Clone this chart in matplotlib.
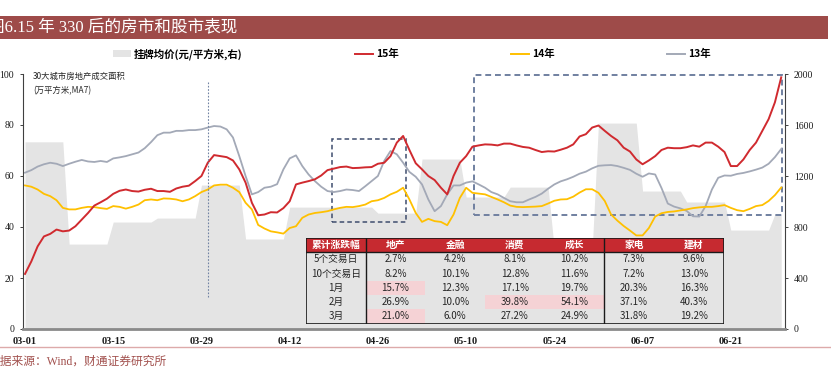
import numpy as np
import matplotlib
matplotlib.use('Agg')
import matplotlib.pyplot as plt
from matplotlib.patches import Rectangle, Patch
from matplotlib.lines import Line2D

# ---------------- data ----------------
tick_labels = ['03-01', '03-15', '03-29', '04-12', '04-26', '05-10', '05-24', '06-07', '06-21']
tick_step = 14
n_days = 121  # 03-01 .. 06-28, daily

y15 = [21.6, 26.5, 32.4, 36.3, 37.3, 39.0, 38.3, 38.6, 40.3, 42.9,
       45.5, 48.4, 49.7, 51.1, 53.0, 54.2, 54.7, 54.1, 53.9, 54.6,
       55.0, 54.1, 54.1, 53.8, 55.1, 55.8, 56.2, 58.0, 60.0, 65.2,
       68.2, 67.8, 67.4, 66.1, 62.6, 57.4, 49.5, 44.6, 44.9, 45.8,
       45.7, 47.4, 50.1, 56.7, 57.4, 58.0, 58.7, 60.2, 62.3, 62.9,
       63.5, 63.7, 63.1, 63.2, 63.4, 63.5, 64.8, 65.2, 67.8, 73.1,
       75.7, 70.2, 65.0, 62.6, 60.0, 58.4, 55.4, 52.8, 60.0, 65.2,
       67.8, 71.5, 72.0, 72.4, 72.3, 72.0, 72.7, 72.7, 72.0, 71.4,
       71.1, 70.2, 69.4, 69.7, 69.6, 70.3, 71.1, 72.4, 75.5, 76.4,
       79.0, 79.8, 77.7, 75.7, 74.0, 71.1, 69.6, 66.5, 64.6, 66.1,
       67.8, 70.2, 71.1, 70.9, 70.9, 71.3, 72.0, 71.5, 73.1, 73.1,
       71.5, 69.4, 63.9, 63.9, 66.5, 70.2, 73.1, 77.7, 82.3, 88.9,
       98.7]

y14 = [56.3, 55.8, 54.7, 53.0, 52.1, 50.5, 47.5, 46.9, 46.9, 47.5,
       47.9, 47.8, 47.4, 47.1, 48.2, 47.9, 47.2, 47.9, 48.8, 50.5,
       50.8, 50.5, 51.2, 51.1, 50.8, 50.1, 50.8, 52.1, 53.7, 54.7,
       56.3, 56.6, 56.6, 55.4, 53.7, 49.5, 46.9, 40.8, 39.4, 38.3,
       37.9, 37.4, 39.6, 40.3, 43.6, 44.9, 45.5, 45.8, 46.2, 46.9,
       47.5, 47.9, 47.8, 48.2, 48.8, 50.1, 50.5, 51.4, 52.8, 53.8,
       55.4, 50.8, 45.5, 42.0, 43.2, 42.3, 42.0, 40.7, 44.9, 51.4,
       55.4, 53.4, 53.1, 52.8, 51.8, 50.8, 49.7, 48.4, 47.9, 47.8,
       47.9, 48.0, 48.2, 49.2, 50.3, 50.8, 50.9, 51.9, 53.5, 54.8,
       54.8, 53.4, 50.2, 44.9, 42.5, 40.4, 38.6, 36.7, 36.7, 39.6,
       44.1, 45.4, 45.9, 46.1, 46.5, 46.9, 47.4, 47.7, 47.9, 47.9,
       48.2, 48.6, 47.5, 46.6, 46.2, 47.1, 48.2, 48.6, 50.2, 52.5,
       55.5]

y13 = [61.3, 62.3, 63.7, 64.6, 65.2, 64.8, 63.9, 64.8, 65.6, 66.3,
       65.7, 65.5, 65.9, 65.5, 66.9, 67.3, 67.8, 68.5, 69.2, 70.9,
       73.3, 76.0, 77.0, 77.0, 77.7, 77.7, 78.0, 78.0, 78.3, 79.0,
       79.6, 79.4, 78.3, 75.1, 67.8, 60.0, 52.8, 53.7, 55.4, 55.8,
       56.8, 62.6, 66.9, 68.1, 63.9, 60.6, 58.0, 55.8, 54.1, 53.7,
       54.1, 54.7, 54.5, 54.1, 56.0, 58.0, 60.0, 65.9, 69.8, 68.5,
       65.2, 61.6, 59.7, 56.7, 50.8, 46.2, 48.2, 52.8, 56.3, 56.3,
       57.4, 57.9, 56.7, 55.4, 53.7, 52.8, 51.4, 50.1, 49.7, 49.7,
       50.8, 51.8, 53.1, 55.0, 56.7, 57.9, 58.7, 59.7, 60.9, 61.7,
       63.0, 64.0, 64.2, 64.3, 63.9, 63.2, 62.4, 60.9, 59.7, 61.0,
       60.6, 55.3, 49.2, 48.0, 47.3, 46.3, 44.2, 44.1, 48.2, 54.7,
       59.3, 60.2, 60.1, 60.8, 61.2, 61.8, 62.5, 63.3, 64.8, 67.4,
       70.6]

# weekly listing price (yuan / m2, right axis), one value per 7-day block
price_weekly = [1468, 666, 839, 870, 1129, 706, 956, 956, 909, 1333,
                1035, 1113, 620, 1615, 1082, 996, 776, 901]

# table
table_header = ['累计涨跌幅', '地产', '金融', '消费', '成长', '家电', '建材']
table_rows = ['5个交易日', '10个交易日', '1月', '2月', '3月']
dichan = [2.7, 8.2, 15.7, 26.9, 21.0]
jinrong = [4.2, 10.1, 12.3, 10.0, 6.0]
xiaofei = [8.1, 12.8, 17.1, 39.8, 27.2]
chengzhang = [10.2, 11.6, 19.7, 54.1, 24.9]
jiadian = [7.3, 7.2, 20.3, 37.1, 31.8]
jiancai = [9.6, 13.0, 16.3, 40.3, 19.2]
highlight = [('1月', '地产'), ('3月', '地产'), ('2月', '消费'), ('2月', '成长')]

# ---------------- style ----------------
W, H = 831, 377
C_RED = '#D02A2F'
C_YEL = '#FFC000'
C_GRY = '#A3A9B7'
C_AREA = '#E4E4E4'
C_BAND = '#9E4B49'
CJK = 'Noto Sans CJK SC'
SERIF_MIX = ['Liberation Serif', CJK]

plt.rcParams['font.family'] = ['Liberation Serif', CJK, 'DejaVu Sans']


def fx(px):
    return px / W


def fy(py):
    return 1 - py / H


fig = plt.figure(figsize=(W / 100, H / 100), dpi=100)

# title band
fig.add_artist(Rectangle((0, fy(38.5)), fx(828), fy(16.5) - fy(38.5),
                         transform=fig.transFigure, color=C_BAND, lw=0))
fig.text(fx(-12), fy(27.5), '图6.15 年 330 后的房市和股市表现', color='white',
         fontsize=12, va='center', ha='left', family=SERIF_MIX)

# main axes
ax = fig.add_axes([fx(22.5), fy(329), fx(785) - fx(22.5), fy(74) - fy(329)])
ax2 = ax.twinx()

days = np.arange(n_days)
price_daily = np.repeat(price_weekly, 7)[:n_days]
ax2.fill_between(days, 0, price_daily, color=C_AREA, lw=0)
ax2.set_ylim(0, 2000)
ax2.set_yticks(np.arange(0, 2001, 400))

ax.plot(days, y13, color=C_GRY, lw=1.3)
ax.plot(days, y14, color=C_YEL, lw=1.3)
ax.plot(days, y15, color=C_RED, lw=1.4)
ax.set_ylim(0, 100)
ax.set_xlim(-0.4, 120.6)
ax.set_yticks(np.arange(0, 101, 20))
ax.set_zorder(ax2.get_zorder() + 1)
ax.patch.set_visible(False)

# policy marker (03-30) and highlight boxes
policy_day = 29
ax.plot([policy_day, policy_day], [12.6, 96.9], color='#7183A3', lw=0.8,
        ls=(0, (1.5, 1.5)))
ax.add_patch(Rectangle((48.7, 42.0), 11.8, 32.7, fill=False, ec='#3F4D6E',
                       lw=1.1, ls=(0, (3, 2))))
ax.add_patch(Rectangle((71.3, 44.9), 48.9, 54.7, fill=False, ec='#7080A0',
                       lw=1.4, ls=(0, (3, 2))))

# ticks & spines
ax.set_xticks(np.arange(0, n_days, tick_step)[:len(tick_labels)])
ax.set_xticklabels(tick_labels, fontweight='bold', fontsize=7.5)
ax.tick_params(axis='x', length=0, pad=6, colors='#1a1a1a')
ax.tick_params(axis='y', direction='out', length=2.5, width=0.7,
               color='#404040', labelsize=7, pad=3.5, labelcolor='#1a1a1a')
ax2.tick_params(axis='y', direction='out', length=2.5, width=0.7,
                color='#404040', labelsize=7, pad=4, labelcolor='#1a1a1a')
for s in ['top', 'right']:
    ax.spines[s].set_visible(False)
for s in ['top', 'left', 'bottom']:
    ax2.spines[s].set_visible(False)
ax.spines['left'].set_color('#404040')
ax.spines['left'].set_linewidth(0.8)
ax2.spines['right'].set_color('#404040')
ax2.spines['right'].set_linewidth(0.8)
ax.spines['bottom'].set_color('#8A8A8A')
ax.spines['bottom'].set_linewidth(2.0)

# annotation
fig.text(fx(33), fy(76), '30大城市房地产成交面积', fontsize=6, family=CJK,
         color='#262626', va='center', ha='left')
fig.text(fx(33), fy(91), '(万平方米,MA7)', fontsize=6, family=CJK,
         color='#262626', va='center', ha='left')

# legend
handles = [Patch(fc=C_AREA, ec='none'),
           Line2D([], [], color=C_RED, lw=1.4),
           Line2D([], [], color=C_YEL, lw=1.4),
           Line2D([], [], color=C_GRY, lw=1.4)]
labels = ['挂牌均价(元/平方米,右)', '15年', '14年', '13年']
fig.legend(handles, labels, ncol=4, loc='center',
           bbox_to_anchor=(fx(412), fy(54)), frameon=False,
           prop={'family': CJK, 'weight': 'bold', 'size': 7.5},
           handlelength=1.7, handleheight=0.6, handletextpad=0.3,
           columnspacing=10.8, borderpad=0, borderaxespad=0)

# table
tax = fig.add_axes([fx(306), fy(323.5), fx(723.5) - fx(306), fy(238) - fy(323.5)])
tax.set_xlim(0, len(table_header))
tax.set_ylim(len(table_rows) + 1, 0)
tax.axis('off')
cols = [dichan, jinrong, xiaofei, chengzhang, jiadian, jiancai]
for c, name in enumerate(table_header):
    tax.add_patch(Rectangle((c, 0), 1, 1, fc='#C62A30', lw=0))
    tax.text(c + 0.5, 0.5, name, ha='center', va='center', color='white',
             fontsize=7, fontweight='bold', family=CJK)
for r, rname in enumerate(table_rows):
    tax.add_patch(Rectangle((0, r + 1), len(table_header), 1, fc=C_AREA, lw=0))
    tax.text(0.5, r + 1.5, rname, ha='center', va='center', color='#262626',
             fontsize=7, family=CJK)
    for c, vals in enumerate(cols):
        if (rname, table_header[c + 1]) in highlight:
            tax.add_patch(Rectangle((c + 1, r + 1), 1, 1, fc='#F5D2D5', lw=0))
        tax.text(c + 1.5, r + 1.5, f'{vals[r]:.1f}%', ha='center', va='center',
                 color='#262626', fontsize=7, family=CJK)
lk = dict(color='#1a1a1a', lw=1.0)
tax.add_patch(Rectangle((0, 0), len(table_header), len(table_rows) + 1,
                        fill=False, ec='#1a1a1a', lw=1.2))
tax.plot([1, 1], [0, len(table_rows) + 1], **lk)
tax.plot([5, 5], [0, len(table_rows) + 1], **lk)
tax.plot([0, len(table_header)], [1, 1], **lk)

# footer
fig.add_artist(Line2D([0, 1], [fy(347), fy(347)], color='#DDAAAA', lw=1,
                      transform=fig.transFigure))
fig.text(fx(-11), fy(362), '数据来源：Wind，财通证券研究所', color='#A2514E',
         fontsize=8.5, va='center', ha='left', family=SERIF_MIX)

fig.savefig('out.png', dpi=100)
